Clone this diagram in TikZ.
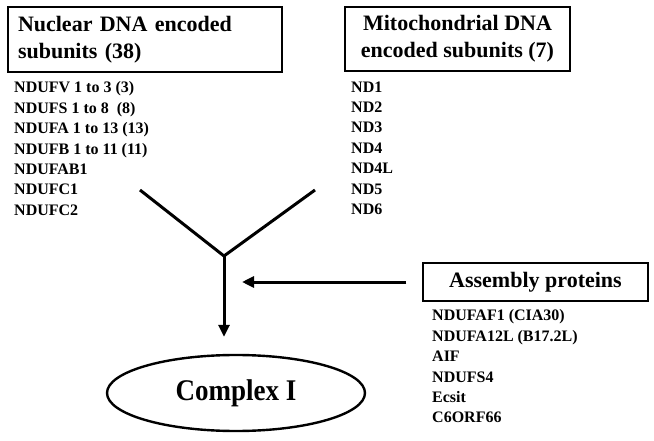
\documentclass[tikz,border=0pt]{standalone}
\usepackage{fontspec}
\setmainfont{Liberation Serif}
\usepackage{tikz}
\usetikzlibrary{calc, positioning, shapes.geometric, arrows.meta}

\begin{document}
\begin{tikzpicture}[x=1pt, y=1pt]

\tikzstyle{arrow} = [-{Triangle[length=12pt,width=11pt]}, line width=3pt];
\tikzstyle{arm} = [line width=3pt];
\tikzstyle{headbox} = [draw, rectangle, line width=1.4pt, font=\fontsize{22}{27}\selectfont\bfseries];
\tikzstyle{list} = [anchor=north west, inner sep=0pt, align=left, font=\fontsize{16}{20.4}\selectfont\bfseries];

\useasboundingbox (0,0) rectangle (654,440);

\node(nuc) [headbox, minimum width=274, minimum height=65, text width=254, align=left] at (145,400.5) {Nuclear DNA encoded\\subunits (38)};
\node(mito) [headbox, minimum width=225, minimum height=64, align=center] at (457.5,401) {Mitochondrial DNA\\encoded subunits (7)};
\node(asm) [headbox, minimum width=225, minimum height=38, align=center] at (535.5,158) {Assembly proteins};

\node(nuclist) [list] at (14,358.5) {NDUFV 1 to 3 (3)\\NDUFS 1 to 8~~(8)\\NDUFA 1 to 13 (13)\\NDUFB 1 to 11 (11)\\NDUFAB1\\NDUFC1\\NDUFC2};
\node(mitolist) [list] at (351,358.6) {ND1\\ND2\\ND3\\ND4\\ND4L\\ND5\\ND6};
\node(asmlist) [list] at (432,130.5) {NDUFAF1 (CIA30)\\NDUFA12L (B17.2L)\\AIF\\NDUFS4\\Ecsit\\C6ORF66};

\node(cplx) [draw, ellipse, line width=2.4pt, minimum width=258, minimum height=76, inner sep=0pt, font=\fontsize{30}{30}\selectfont\bfseries] at (236,47) {\scalebox{0.9}[1]{Complex I}};

\coordinate(left) at (140,250);
\coordinate(right) at (315,250);
\coordinate(j) at (224,184);

\draw [arm, line join=miter] (left) -- (j) -- (right);
\draw [arrow, shorten >=17pt] (j) -- (cplx.north -| j);
\draw [arrow, shorten <=16pt, shorten >=18pt] (asm.west) -- (asm.west -| j);

\end{tikzpicture}
\end{document}
